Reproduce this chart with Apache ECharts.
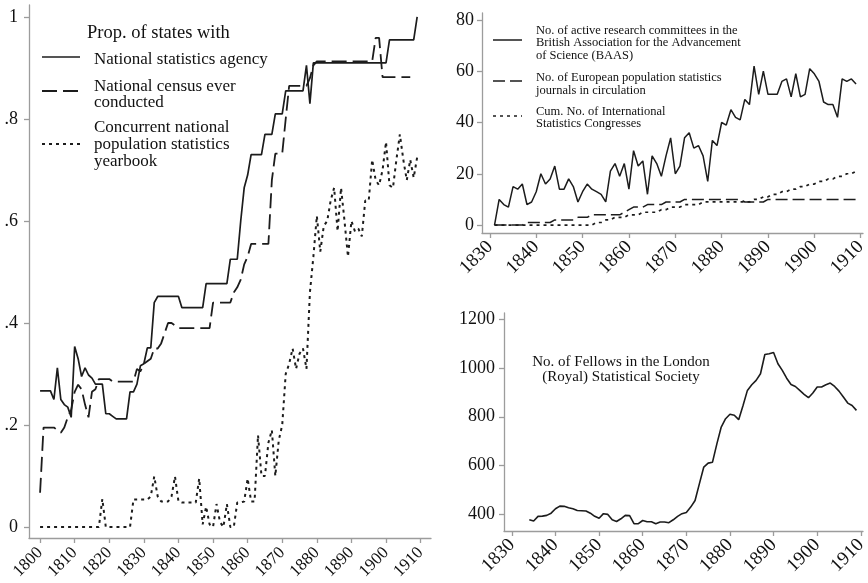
<!DOCTYPE html>
<html>
<head>
<meta charset="utf-8">
<script src="https://cdn.jsdelivr.net/npm/echarts@6/dist/echarts.min.js"></script>
<style>
  html, body { margin: 0; padding: 0; background: #fff; }
  #chart { width: 868px; height: 583px; }
</style>
</head>
<body>
<div id="chart"></div>
<script>
// ---- data ----
// left panel: proportion of states, annual 1800-1909
const leftStart = 1800
const agency = [
  0.267, 0.267, 0.267, 0.267, 0.25, 0.312, 0.25, 0.24, 0.235, 0.215,
  0.354, 0.33, 0.295, 0.312, 0.298, 0.292, 0.28, 0.28, 0.28, 0.222,
  0.222, 0.217, 0.212, 0.212, 0.212, 0.212, 0.265, 0.265, 0.28, 0.316,
  0.32, 0.351, 0.351, 0.44, 0.452, 0.452, 0.452, 0.452, 0.452, 0.452,
  0.452, 0.43, 0.43, 0.43, 0.43, 0.43, 0.43, 0.43, 0.477, 0.477,
  0.477, 0.477, 0.477, 0.477, 0.477, 0.525, 0.525, 0.525, 0.6, 0.665,
  0.69, 0.73, 0.73, 0.73, 0.73, 0.77, 0.77, 0.77, 0.81, 0.81,
  0.81, 0.855, 0.855, 0.855, 0.855, 0.855, 0.855, 0.905, 0.83, 0.91,
  0.91, 0.91, 0.91, 0.91, 0.91, 0.91, 0.91, 0.91, 0.91, 0.91,
  0.91, 0.91, 0.91, 0.91, 0.91, 0.91, 0.91, 0.91, 0.91, 0.91,
  0.91, 0.955, 0.955, 0.955, 0.955, 0.955, 0.955, 0.955, 0.955, 1.0
]
const census = [
  0.067, 0.195, 0.195, 0.195, 0.195, 0.19, 0.185, 0.195, 0.215, 0.23,
  0.265, 0.279, 0.27, 0.24, 0.215, 0.265, 0.27, 0.29, 0.29, 0.29,
  0.29, 0.285, 0.285, 0.285, 0.285, 0.285, 0.285, 0.285, 0.31, 0.305,
  0.32, 0.325, 0.33, 0.35, 0.35, 0.36, 0.38, 0.40, 0.40, 0.395,
  0.39, 0.39, 0.39, 0.39, 0.39, 0.39, 0.39, 0.39, 0.39, 0.39,
  0.44, 0.44, 0.44, 0.44, 0.44, 0.44, 0.46, 0.47, 0.485, 0.515,
  0.53, 0.555, 0.555, 0.555, 0.555, 0.555, 0.555, 0.68, 0.732, 0.732,
  0.732, 0.80, 0.865, 0.865, 0.865, 0.865, 0.865, 0.865, 0.88, 0.905,
  0.913, 0.913, 0.913, 0.913, 0.913, 0.913, 0.913, 0.913, 0.913, 0.913,
  0.913, 0.913, 0.913, 0.913, 0.913, 0.913, 0.913, 0.959, 0.959, 0.882,
  0.882, 0.882, 0.882, 0.882, 0.882, 0.882, 0.882, 0.882
]
const yearbook = [
  0, 0, 0, 0, 0, 0, 0, 0, 0, 0,
  0, 0, 0, 0, 0, 0, 0, 0, 0.055, 0,
  0, 0, 0, 0, 0, 0, 0, 0.054, 0.054, 0.054,
  0.054, 0.054, 0.06, 0.099, 0.06, 0.05, 0.05, 0.05, 0.06, 0.099,
  0.05, 0.048, 0.048, 0.048, 0.048, 0.048, 0.095, 0.005, 0.04, 0.005,
  0, 0.045, 0.01, 0, 0.045, 0, 0, 0.048, 0.048, 0.05,
  0.095, 0.05, 0.05, 0.18, 0.10, 0.10, 0.165, 0.19, 0.10, 0.17,
  0.20, 0.30, 0.32, 0.35, 0.31, 0.34, 0.35, 0.31, 0.46, 0.53,
  0.61, 0.54, 0.59, 0.60, 0.64, 0.665, 0.58, 0.665, 0.60, 0.53,
  0.60, 0.58, 0.585, 0.57, 0.64, 0.64, 0.72, 0.68, 0.67, 0.70,
  0.755, 0.67, 0.665, 0.72, 0.77, 0.72, 0.68, 0.72, 0.685, 0.725
]
const leftTicks = [1800, 1810, 1820, 1830, 1840, 1850, 1860, 1870, 1880, 1890, 1900, 1910]
const propTicks = [0, 0.2, 0.4, 0.6, 0.8, 1]

// top right: counts, annual 1831-1909
const trStart = 1831
const baas = [
  0, 10, 8, 7, 15, 14, 16, 8, 9, 13,
  20, 16, 18, 23, 14, 14, 18, 15, 9, 13,
  16, 14, 13, 12, 9, 21, 24, 19, 24, 14,
  29, 23, 25, 12, 27, 24, 19, 27, 34, 20,
  23, 34, 36, 30, 31, 27, 17, 33, 31, 40,
  39, 45, 42, 41, 49, 47, 62, 51, 60, 51,
  51, 51, 56, 57, 50, 59, 50, 51, 61, 59,
  56, 48, 47, 47, 42, 57, 56, 57, 55
]
const journals = [
  0, 0, 0, 0, 0, 0, 0, 1, 1, 1,
  1, 1, 1, 2, 2, 2, 2, 2, 3, 3,
  3, 4, 4, 4, 4, 4, 4, 4, 5, 6,
  7, 7, 7, 8, 8, 8, 8, 9, 9, 9,
  9, 10, 10, 10, 10, 10, 10, 10, 10, 10,
  10, 10, 10, 10, 9, 9, 9, 9, 9, 10,
  10, 10, 10, 10, 10, 10, 10, 10, 10, 10,
  10, 10, 10, 10, 10, 10, 10, 10, 10
]
const congresses = [
  0, 0, 0, 0, 0, 0, 0, 0, 0, 0,
  0, 0, 0, 0, 0, 0, 0, 0, 0, 0,
  0, 0, 1, 1, 2, 2, 3, 3, 3, 4,
  4, 4, 5, 5, 5, 5, 6, 6, 7, 7,
  7, 8, 8, 8, 8, 9, 9, 9, 9, 9,
  9, 9, 9, 9, 9, 9, 10, 10, 11, 11,
  12, 12, 13, 13, 14, 14, 15, 15, 16, 16,
  17, 17, 18, 18, 19, 19, 20, 20, 21
]
const countTicks = [0, 20, 40, 60, 80]

// bottom right: fellows, annual 1834-1909
const brStart = 1834
const fellows = [
  378, 373, 392, 393, 396, 405, 423, 434, 433, 427,
  423, 416, 415, 414, 405, 392, 384, 403, 400, 378,
  371, 382, 396, 395, 362, 362, 375, 370, 370, 362,
  369, 369, 366, 378, 392, 403, 408, 430, 457, 526,
  594, 610, 614, 689, 758, 792, 810, 806, 788, 846,
  908, 931, 949, 976, 1055, 1058, 1063, 1017, 990, 958,
  932, 924, 908, 892, 878, 897, 922, 922, 931, 938,
  924, 905, 881, 856, 846, 826
]
const rightTicks = [1830, 1840, 1850, 1860, 1870, 1880, 1890, 1900, 1910]
const fellowTicks = [400, 600, 800, 1000, 1200]

// ---- style ----
const FONT = '"Liberation Serif", "Times New Roman", Times, serif'
const AXIS = '#9c9c9c'
const INK = '#1c1c1c'

const toPairs = (start, vals) => vals.map((v, i) => [start + i, v])
const plain = v => String(v)

function xAxisCfg(gridIndex, min, max, ticks, size, margin) {
  return {
    type: 'value', gridIndex, min, max,
    axisLine: { show: true, onZero: false, lineStyle: { color: AXIS, width: 1.3 } },
    axisTick: { show: true, length: 5, customValues: ticks, lineStyle: { color: AXIS, width: 1.3 } },
    axisLabel: { customValues: ticks, rotate: 45, margin, fontSize: size, fontFamily: FONT, color: '#111', formatter: plain },
    splitLine: { show: false }
  }
}
function yAxisCfg(gridIndex, min, max, ticks, margin, formatter) {
  return {
    type: 'value', gridIndex, min, max,
    axisLine: { show: true, onZero: false, lineStyle: { color: AXIS, width: 1.3 } },
    axisTick: { show: true, length: 5, customValues: ticks, lineStyle: { color: AXIS, width: 1.3 } },
    axisLabel: { customValues: ticks, margin, fontSize: 18, fontFamily: FONT, color: '#111', formatter: formatter || plain },
    splitLine: { show: false }
  }
}
function lineSeries(name, idx, data, type, width, dash) {
  return {
    name, type: 'line', xAxisIndex: idx, yAxisIndex: idx, data,
    symbol: 'none', showSymbol: false, connectNulls: false,
    lineStyle: { color: INK, width, type: dash || type },
    z: 3
  }
}

// legend keys / notes as graphic
function keyLine(x1, x2, y, dash, width) {
  return { type: 'line', shape: { x1, y1: y, x2, y2: y }, style: { stroke: INK, lineWidth: width, lineDash: dash } }
}
function label(x, y, text, size, lh, align) {
  return {
    type: 'text', x, y,
    style: { text, font: size + 'px ' + FONT, fill: '#111', lineHeight: lh, textAlign: align || 'left', textVerticalAlign: 'top' }
  }
}

const propFmt = v => (v === 0 ? '0' : v === 1 ? '1' : String(v).replace('0.', '.'))

const option = {
  animation: false,
  backgroundColor: '#fff',
  grid: [
    { left: 29, top: 5, width: 402, height: 533, outerBoundsMode: 'none' },
    { left: 482, top: 13, width: 381, height: 220, outerBoundsMode: 'none' },
    { left: 504, top: 313, width: 359, height: 218, outerBoundsMode: 'none' }
  ],
  xAxis: [
    xAxisCfg(0, 1796.8, 1913, leftTicks, 17, 12),
    xAxisCfg(1, 1828.3, 1910.5, rightTicks, 19, 11),
    xAxisCfg(2, 1828.2, 1910.5, rightTicks, 19, 11)
  ],
  yAxis: [
    yAxisCfg(0, -0.0216, 1.0235, propTicks, 11, propFmt),
    yAxisCfg(1, -3.1, 82.7, countTicks, 8),
    yAxisCfg(2, 332, 1225, fellowTicks, 9)
  ],
  series: [
    lineSeries('National statistics agency', 0, toPairs(leftStart, agency), 'solid', 1.7),
    lineSeries('National census ever conducted', 0, toPairs(leftStart, census), 'dashed', 1.8, [15, 6]),
    lineSeries('Concurrent national population statistics yearbook', 0, toPairs(leftStart, yearbook), 'dotted', 2, [3, 4]),
    lineSeries('BAAS committees', 1, toPairs(trStart, baas), 'solid', 1.5),
    lineSeries('Population statistics journals', 1, toPairs(trStart, journals), 'dashed', 1.5, [12, 5]),
    lineSeries('International Statistics Congresses', 1, toPairs(trStart, congresses), 'dotted', 1.7, [3, 4]),
    lineSeries('Fellows', 2, toPairs(brStart, fellows), 'solid', 1.6)
  ],
  graphic: [
    // left legend
    label(87, 23, 'Prop. of states with', 18.5, 20),
    keyLine(42, 80, 57, null, 1.7),
    label(94, 51, 'National statistics agency', 17, 17),
    keyLine(42, 80, 91, [15, 6], 1.8),
    label(94, 78, 'National census ever\nconducted', 17, 16.5),
    keyLine(42, 80, 144, [3, 4], 2),
    label(94, 119, 'Concurrent national\npopulation statistics\nyearbook', 17, 17),
    // top right legend
    keyLine(493, 522, 40, null, 1.5),
    label(536, 24, 'No. of active research committees in the\nBritish Association for the Advancement\nof Science (BAAS)', 12.5, 12.8),
    keyLine(493, 522, 81, [12, 5], 1.5),
    label(536, 72, 'No. of European population statistics\njournals in circulation', 12.5, 12.2),
    keyLine(493, 522, 116, [3, 4], 1.7),
    label(536, 105, 'Cum. No. of International\nStatistics Congresses', 12.5, 12.5),
    // bottom right note
    label(621, 355, 'No. of Fellows in the London\n(Royal) Statistical Society', 15, 15, 'center')
  ]
}

const chart = echarts.init(document.getElementById('chart'), null, { renderer: 'canvas' })
chart.setOption(option)
</script>
</body>
</html>
